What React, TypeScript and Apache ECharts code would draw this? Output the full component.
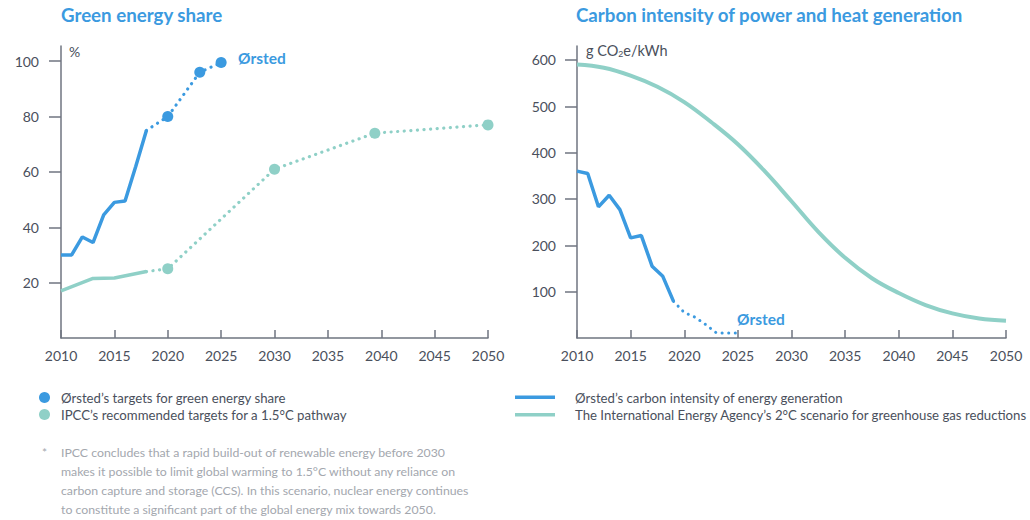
import React, { useEffect, useRef } from "react";
import * as echarts from "echarts";

const BLUE = "#3b9ae0";
const TEAL = "#8fd0c7";
const AXIS = "#6f7580";
const LABEL = "#4a505c";
const NOTE = "#a3a7ae";
const FONT = "Lato, 'Noto Sans', sans-serif";

// Left chart: green energy share (%)
const orstedShareActual: [number, number][] = [
  [2010, 30], [2011, 30], [2012, 36.5], [2013, 34.5], [2014, 44.5],
  [2015, 49], [2016, 49.5], [2017, 62], [2018, 75],
];
const orstedShareTargets: [number, number][] = [
  [2018, 75], [2020, 80], [2023, 96], [2025, 99.5],
];
const ipccShareActual: [number, number][] = [
  [2010, 17], [2013, 21.5], [2015, 21.7], [2018, 24],
];
const ipccShareTargets: [number, number][] = [
  [2018, 24], [2020, 25], [2030, 61], [2039.4, 74], [2050, 77],
];

// Right chart: carbon intensity (g CO2e/kWh)
const orstedIntensityActual: [number, number][] = [
  [2010, 360], [2011, 355], [2012, 283], [2013, 308], [2014, 277],
  [2015, 216], [2016, 221], [2017, 155], [2018, 133], [2019, 79],
];
const orstedIntensityTarget: [number, number][] = [
  [2019, 79], [2020, 55], [2021, 45], [2022, 29], [2023, 11], [2024, 11], [2025, 11],
];
const ieaScenario: [number, number][] = [
  [2010, 590], [2012.5, 583], [2015, 566], [2017.5, 542], [2020, 509],
  [2022.5, 466], [2025, 418], [2027.5, 360], [2030, 295], [2032.5, 229],
  [2035, 173], [2037.5, 129], [2040, 97], [2042.5, 71], [2045, 53],
  [2047.5, 42], [2050, 37],
];

const shareTicks = [20, 40, 60, 80, 100];
const intensityTicks = [100, 200, 300, 400, 500, 600];

const legendLeft = [
  "Ørsted’s targets for green energy share",
  "IPCC’s recommended targets for a 1.5°C pathway",
];
const legendRight = [
  "Ørsted’s carbon intensity of energy generation",
  "The International Energy Agency’s 2°C scenario for greenhouse gas reductions",
];
const footnoteLines = [
  "IPCC concludes that a rapid build-out of renewable energy before 2030",
  "makes it possible to limit global warming to 1.5°C without any reliance on",
  "carbon capture and storage (CCS). In this scenario, nuclear energy continues",
  "to constitute a significant part of the global energy mix towards 2050.",
];

const dotted = (color: string, width = 3.2) => ({
  color,
  width,
  type: [0.1, 6.5] as number[],
  cap: "round" as const,
});

function xAxis(gridIndex: number) {
  return {
    type: "value" as const,
    gridIndex,
    min: 2010,
    max: 2050,
    interval: 5,
    axisLine: { show: true, lineStyle: { color: AXIS, width: 1.5 } },
    axisTick: { show: true, inside: true, length: 8, lineStyle: { color: AXIS, width: 1.5 } },
    axisLabel: {
      color: LABEL, fontSize: 14, margin: 10, fontFamily: FONT,
      formatter: (v: number) => String(v),
    },
    splitLine: { show: false },
  };
}

function yAxis(gridIndex: number, max: number, ticks: number[], margin: number) {
  return {
    type: "value" as const,
    gridIndex,
    min: 0,
    max,
    axisLine: { show: true, lineStyle: { color: AXIS, width: 1.5 } },
    axisTick: { show: true, length: 12, customValues: ticks, lineStyle: { color: AXIS, width: 1.5 } },
    axisLabel: { customValues: ticks, color: LABEL, fontSize: 14, margin, fontFamily: FONT },
    splitLine: { show: false },
  };
}

export default function App() {
  const ref = useRef<HTMLDivElement>(null);
  useEffect(() => {
    if (!ref.current) return;
    const chart = echarts.init(ref.current, undefined, { renderer: "svg" });
    const legendFont = `13.2px ${FONT}`;
    const option: any = {
      animation: false,
      backgroundColor: "#ffffff",
      textStyle: { fontFamily: FONT },
      grid: [
        { left: 61, top: 46, width: 427, height: 292 },
        { left: 577, top: 46, width: 429, height: 292 },
      ],
      xAxis: [xAxis(0), xAxis(1)],
      yAxis: [yAxis(0, 105.5, shareTicks, 22), yAxis(1, 630, intensityTicks, 21)],
      series: [
        {
          type: "line", xAxisIndex: 0, yAxisIndex: 0, data: ipccShareActual,
          showSymbol: false, lineStyle: { color: TEAL, width: 3.5 }, z: 3,
        },
        {
          type: "line", xAxisIndex: 0, yAxisIndex: 0,
          data: ipccShareTargets.map((p, i) => (i === 0 ? { value: p, symbol: "none" } : p)),
          symbol: "circle", symbolSize: 11, showAllSymbol: true,
          itemStyle: { color: TEAL }, lineStyle: dotted(TEAL), z: 3,
        },
        {
          type: "line", xAxisIndex: 0, yAxisIndex: 0, data: orstedShareActual,
          showSymbol: false, lineStyle: { color: BLUE, width: 3.5 }, z: 4,
        },
        {
          type: "line", xAxisIndex: 0, yAxisIndex: 0,
          data: orstedShareTargets.map((p, i) => (i === 0 ? { value: p, symbol: "none" } : p)),
          symbol: "circle", symbolSize: 11, showAllSymbol: true,
          itemStyle: { color: BLUE }, lineStyle: dotted(BLUE), z: 4,
        },
        {
          type: "line", xAxisIndex: 1, yAxisIndex: 1, data: ieaScenario,
          smooth: 0.4, showSymbol: false, lineStyle: { color: TEAL, width: 4 }, z: 3,
        },
        {
          type: "line", xAxisIndex: 1, yAxisIndex: 1, data: orstedIntensityActual,
          showSymbol: false, lineStyle: { color: BLUE, width: 3.5 }, z: 4,
        },
        {
          type: "line", xAxisIndex: 1, yAxisIndex: 1, data: orstedIntensityTarget,
          showSymbol: false, lineStyle: dotted(BLUE, 3), z: 4,
        },
      ],
      graphic: [
        {
          type: "text", left: 61, top: 5,
          style: { text: "Green energy share", fill: BLUE, font: `bold 18.7px ${FONT}` },
        },
        {
          type: "text", left: 576, top: 5,
          style: { text: "Carbon intensity of power and heat generation", fill: BLUE, font: `bold 18.7px ${FONT}` },
        },
        {
          type: "text", left: 69, top: 44,
          style: { text: "%", fill: LABEL, font: `14px ${FONT}` },
        },
        {
          type: "text", left: 586, top: 43,
          style: {
            text: "g CO{sub|2}e/kWh",
            fill: LABEL,
            font: `14.5px ${FONT}`,
            rich: { sub: { fontSize: 9, verticalAlign: "bottom", padding: [7, 0, 0, 0], fill: LABEL } },
          },
        },
        {
          type: "text", left: 238, top: 50,
          style: { text: "Ørsted", fill: BLUE, font: `bold 15.5px ${FONT}` },
        },
        {
          type: "text", left: 737, top: 311,
          style: { text: "Ørsted", fill: BLUE, font: `bold 15.5px ${FONT}` },
        },
        // Left legend
        { type: "circle", shape: { cx: 44.5, cy: 397.5, r: 5.5 }, style: { fill: BLUE } },
        { type: "circle", shape: { cx: 44.5, cy: 414.5, r: 5.5 }, style: { fill: TEAL } },
        {
          type: "text", x: 61, y: 397.5,
          style: { text: legendLeft[0], fill: LABEL, font: legendFont, verticalAlign: "middle" },
        },
        {
          type: "text", x: 61, y: 414.5,
          style: { text: legendLeft[1], fill: LABEL, font: legendFont, verticalAlign: "middle" },
        },
        // Right legend
        { type: "rect", shape: { x: 515, y: 395.5, width: 40, height: 3.5 }, style: { fill: BLUE } },
        { type: "rect", shape: { x: 515, y: 413, width: 40, height: 3.5 }, style: { fill: TEAL } },
        {
          type: "text", x: 575, y: 397.5,
          style: { text: legendRight[0], fill: LABEL, font: legendFont, verticalAlign: "middle" },
        },
        {
          type: "text", x: 575, y: 414.5,
          style: { text: legendRight[1], fill: LABEL, font: legendFont, verticalAlign: "middle" },
        },
        // Footnote
        {
          type: "text", x: 42, y: 446,
          style: { text: "*", fill: NOTE, font: `12px ${FONT}` },
        },
        {
          type: "text", x: 61, y: 443,
          style: { text: footnoteLines.join("\n"), fill: NOTE, font: `12.3px ${FONT}`, lineHeight: 19 },
        },
      ],
    };
    chart.setOption(option);
    return () => chart.dispose();
  }, []);
  return (
    <div
      ref={ref}
      style={{ position: "fixed", left: 0, top: 0, width: 1030, height: 520, background: "#fff" }}
    />
  );
}
